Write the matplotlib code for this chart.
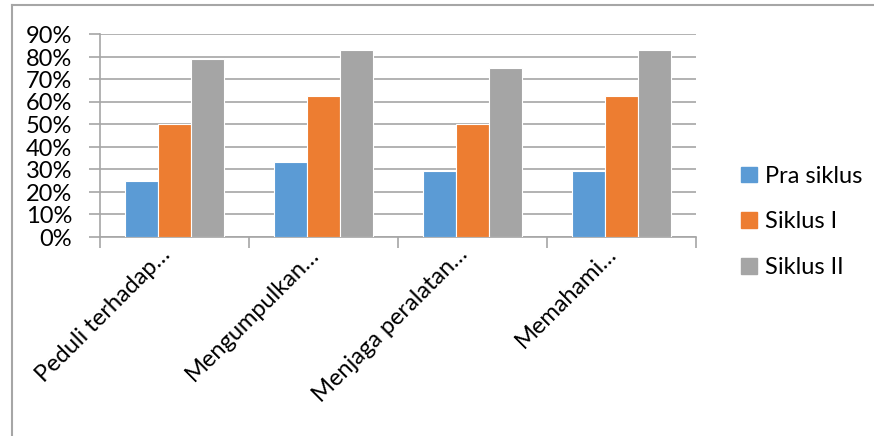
import matplotlib
matplotlib.use("Agg")
import matplotlib.pyplot as plt
import numpy as np
from matplotlib.patches import Rectangle
from matplotlib.lines import Line2D

categories = ["Peduli terhadap…", "Mengumpulkan…", "Menjaga peralatan…", "Memahami…"]
series_names = ["Pra siklus", "Siklus I", "Siklus II"]
pra_siklus = [25.0, 33.3, 29.2, 29.2]
siklus_1 = [50.0, 62.5, 50.0, 62.5]
siklus_2 = [79.2, 83.3, 75.0, 83.3]
colors = ["#5B9BD5", "#ED7D31", "#A5A5A5"]
yticks = [0, 10, 20, 30, 40, 50, 60, 70, 80, 90]

plt.rcParams['font.family'] = ['Lato', 'DejaVu Sans']
FS = 17

W, H = 874, 436
fig = plt.figure(figsize=(W / 100, H / 100), dpi=100)
fig.patch.set_facecolor("white")

# outer frame (left and top edges visible)
fig.add_artist(Line2D([12 / W, 12 / W], [0, 1 - 5 / H], color="#A6A6A6", lw=1.5, transform=fig.transFigure))
fig.add_artist(Line2D([12 / W, 1], [1 - 5 / H, 1 - 5 / H], color="#A6A6A6", lw=1.5, transform=fig.transFigure))

ax_l, ax_r, ax_t, ax_b = 100, 696, 34.5, 237
ax = fig.add_axes([ax_l / W, 1 - ax_b / H, (ax_r - ax_l) / W, (ax_b - ax_t) / H])

n = len(categories)
x = np.arange(n)
bw = 0.222
data = [pra_siklus, siklus_1, siklus_2]
for i, (vals, c) in enumerate(zip(data, colors)):
    ax.bar(x + (i - 1) * bw, vals, width=bw, color=c, edgecolor="white", linewidth=0.8, zorder=3, label=series_names[i])

ax.set_xlim(-0.5, n - 0.5)
ax.set_ylim(0, 90)
ax.set_yticks(yticks)
ax.set_yticklabels([f"{v}%" for v in yticks], fontsize=FS)
ax.yaxis.grid(True, color="#A6A6A6", lw=1.2, zorder=0)
ax.tick_params(axis="y", length=8, color="#A6A6A6", width=1.2, pad=12)

ax.set_xticks(np.arange(n + 1) - 0.5, minor=False)
ax.set_xticklabels([""] * (n + 1))
ax.tick_params(axis="x", length=8, color="#A6A6A6", width=1.2, direction="out")

for s in ["top", "right"]:
    ax.spines[s].set_visible(False)
for s in ["left", "bottom"]:
    ax.spines[s].set_color("#A6A6A6")
    ax.spines[s].set_linewidth(1.2)

for i, lab in enumerate(categories):
    ax.annotate(lab, xy=(i, 0), xycoords="data", xytext=(-8, -14), textcoords="offset pixels",
                rotation=45, rotation_mode="anchor", ha="right", va="center", fontsize=FS, color="black")

# legend
handles = [Rectangle((0, 0), 1, 1, color=c) for c in colors]
leg = fig.legend(handles, series_names, loc="center left", bbox_to_anchor=(720 / W, 1 - 222 / H),
                 frameon=False, fontsize=FS, handlelength=0.65, handleheight=0.65, handletextpad=0.35,
                 labelspacing=1.05)

fig.savefig("out.png", dpi=100, facecolor="white")
